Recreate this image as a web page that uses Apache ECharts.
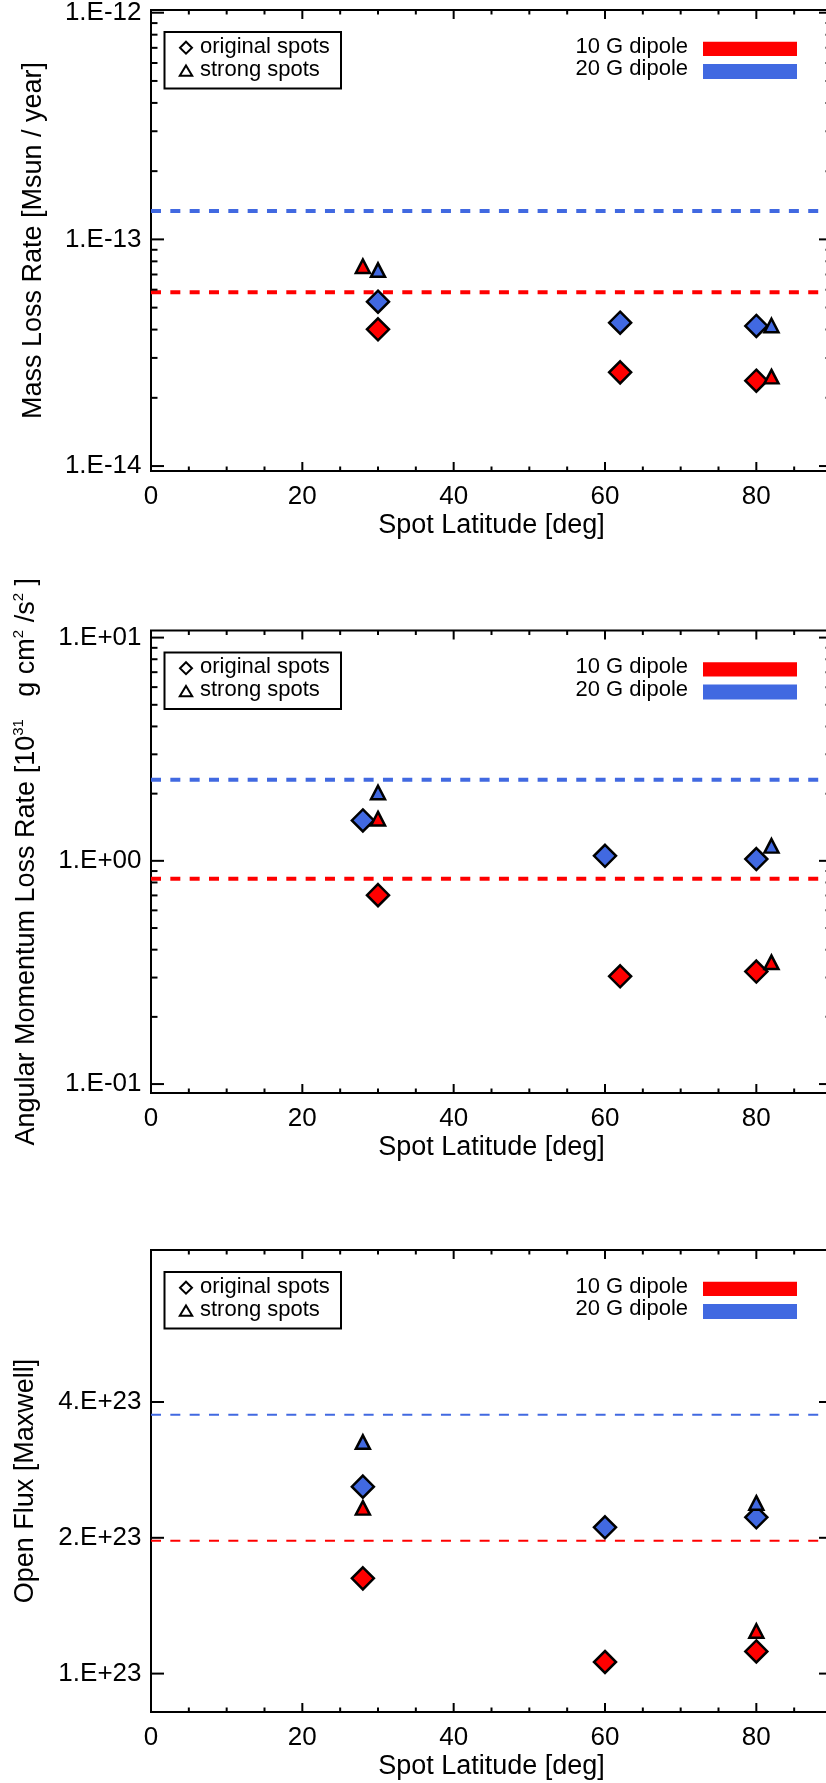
<!DOCTYPE html>
<html>
<head>
<meta charset="utf-8">
<script src="https://cdn.jsdelivr.net/npm/echarts@6/dist/echarts.min.js"></script>
<style>
  html, body { margin: 0; padding: 0; background: #fff; overflow: hidden; }
  #chart { width: 826px; height: 1783px; }
</style>
</head>
<body>
<div id="chart"></div>
<script>
// ---------- shared x axis: spot latitude ----------
const latRange = [0, 90];
const latMajorTicks = [0, 20, 40, 60, 80];
const latMajorLabels = ['0', '20', '40', '60', '80'];
const latMinorTicks = [5, 10, 15, 25, 30, 35, 45, 50, 55, 65, 70, 75, 85, 90];

// ---------- panel 1: mass loss rate [Msun / year] ----------
const massLatOrig10 = [30, 62, 80];
const massOrig10 = [4.01e-14, 2.59e-14, 2.38e-14];
const massLatOrig20 = [30, 62, 80];
const massOrig20 = [5.31e-14, 4.29e-14, 4.15e-14];
const massLatStrong10 = [28, 82];
const massStrong10 = [7.61e-14, 2.48e-14];
const massLatStrong20 = [30, 82];
const massStrong20 = [7.32e-14, 4.17e-14];
const massDipole10 = 5.84e-14;
const massDipole20 = 1.334e-13;
const massRange = [9.51e-15, 1.028e-12];
const massMajorTicks = [1e-14, 1e-13, 1e-12];
const massMajorLabels = ['1.E-14', '1.E-13', '1.E-12'];
const massMinorTicks = [2e-14, 3e-14, 4e-14, 5e-14, 6e-14, 7e-14, 8e-14, 9e-14,
                        2e-13, 3e-13, 4e-13, 5e-13, 6e-13, 7e-13, 8e-13, 9e-13];

// ---------- panel 2: angular momentum loss rate [1e31 g cm^2 / s^2] ----------
const amLatOrig10 = [30, 62, 80];
const amOrig10 = [0.702, 0.304, 0.319];
const amLatOrig20 = [28, 60, 80];
const amOrig20 = [1.517, 1.053, 1.019];
const amLatStrong10 = [30, 82];
const amStrong10 = [1.545, 0.351];
const amLatStrong20 = [30, 82];
const amStrong20 = [2.025, 1.167];
const amDipole10 = 0.832;
const amDipole20 = 2.31;
const amRange = [0.0912, 10.76];
const amMajorTicks = [0.1, 1, 10];
const amMajorLabels = ['1.E-01', '1.E+00', '1.E+01'];
const amMinorTicks = [0.2, 0.3, 0.4, 0.5, 0.6, 0.7, 0.8, 0.9,
                      2, 3, 4, 5, 6, 7, 8, 9];

// ---------- panel 3: open flux [Maxwell] ----------
const fluxLatOrig10 = [28, 60, 80];
const fluxOrig10 = [1.626e23, 1.061e23, 1.12e23];
const fluxLatOrig20 = [28, 60, 80];
const fluxOrig20 = [2.597e23, 2.11e23, 2.22e23];
const fluxLatStrong10 = [28, 80];
const fluxStrong10 = [2.33e23, 1.243e23];
const fluxLatStrong20 = [28, 80];
const fluxStrong20 = [3.26e23, 2.39e23];
const fluxDipole10 = 1.97e23;
const fluxDipole20 = 3.75e23;
const fluxRange = [8.22e22, 8.69e23];
const fluxMajorTicks = [1e23, 2e23, 4e23];
const fluxMajorLabels = ['1.E+23', '2.E+23', '4.E+23'];
const fluxMinorTicks = [];

// ---------- styling ----------
const FONT = '"Liberation Sans", Arial, Helvetica, sans-serif';
const RED = '#ff0000';
const BLUE = '#4169e1';
const PLOT_LEFT = 151;
const PLOT_WIDTH = 681;   // right frame edge sits just past the canvas edge

const panels = [
  {
    top: 10, height: 461, range: massRange,
    major: massMajorTicks, majorLabels: massMajorLabels, minor: massMinorTicks,
    title: 'Mass Loss Rate [Msun / year]', titleX: 34,
    orig10: [massLatOrig10, massOrig10], orig20: [massLatOrig20, massOrig20],
    strong10: [massLatStrong10, massStrong10], strong20: [massLatStrong20, massStrong20],
    dip10: massDipole10, dip20: massDipole20, dashWidth: 4
  },
  {
    top: 630.5, height: 462.5, range: amRange,
    major: amMajorTicks, majorLabels: amMajorLabels, minor: amMinorTicks,
    title: 'Angular Momentum Loss Rate [10{sup|31}   g cm{sup|2} /s{sup|2} ]', titleX: 26.5,
    orig10: [amLatOrig10, amOrig10], orig20: [amLatOrig20, amOrig20],
    strong10: [amLatStrong10, amStrong10], strong20: [amLatStrong20, amStrong20],
    dip10: amDipole10, dip20: amDipole20, dashWidth: 4
  },
  {
    top: 1250, height: 462, range: fluxRange,
    major: fluxMajorTicks, majorLabels: fluxMajorLabels, minor: fluxMinorTicks,
    title: 'Open Flux [Maxwell]', titleX: 26,
    orig10: [fluxLatOrig10, fluxOrig10], orig20: [fluxLatOrig20, fluxOrig20],
    strong10: [fluxLatStrong10, fluxStrong10], strong20: [fluxLatStrong20, fluxStrong20],
    dip10: fluxDipole10, dip20: fluxDipole20, dashWidth: 2
  }
];

function pairs(xs, ys) {
  return xs.map(function (x, i) { return [x, ys[i]]; });
}

// Axis frame: inward ticks on all four sides plus tick labels
function frameRenderer(p) {
  return function (params, api) {
    const cs = params.coordSys;
    const left = cs.x, right = cs.x + cs.width, top = cs.y, bottom = cs.y + cs.height;
    const yRef = p.major[0];
    const kids = [];
    function seg(x1, y1, x2, y2) {
      kids.push({ type: 'line', shape: { x1: x1, y1: y1, x2: x2, y2: y2 },
        style: { stroke: '#000', lineWidth: 2 } });
    }
    function label(text, x, y, align) {
      kids.push({ type: 'text', style: {
        text: text, x: x, y: y, fill: '#000',
        font: '26px ' + FONT, fontSize: 26, fontFamily: FONT,
        align: align, verticalAlign: 'middle',
        textAlign: align, textVerticalAlign: 'middle'
      } });
    }
    latMajorTicks.forEach(function (v, i) {
      const px = api.coord([v, yRef])[0];
      seg(px, bottom, px, bottom - 9);
      seg(px, top, px, top + 9);
      label(latMajorLabels[i], px, bottom + 26, 'center');
    });
    latMinorTicks.forEach(function (v) {
      const px = api.coord([v, yRef])[0];
      seg(px, bottom, px, bottom - 4.5);
      seg(px, top, px, top + 4.5);
    });
    p.major.forEach(function (v, i) {
      const py = api.coord([latRange[0], v])[1];
      seg(left, py, left + 13, py);
      seg(right, py, right - 13, py);
      label(p.majorLabels[i], left - 9.5, py, 'right');
    });
    p.minor.forEach(function (v) {
      const py = api.coord([latRange[0], v])[1];
      seg(left, py, left + 6.5, py);
      seg(right, py, right - 6.5, py);
    });
    return { type: 'group', children: kids };
  };
}

const grid = [], xAxis = [], yAxis = [], series = [], graphic = [];

panels.forEach(function (p, k) {
  grid.push({
    left: PLOT_LEFT, top: p.top, width: PLOT_WIDTH, height: p.height,
    outerBoundsMode: 'none', containLabel: false,
    show: true, borderColor: '#000', borderWidth: 2, backgroundColor: 'transparent'
  });
  xAxis.push({ type: 'value', gridIndex: k, min: latRange[0], max: latRange[1], show: false });
  yAxis.push({ type: 'log', logBase: 10, gridIndex: k, min: p.range[0], max: p.range[1], show: false });

  const dash = [10, 9.33];
  [[p.dip10, RED], [p.dip20, BLUE]].forEach(function (d) {
    series.push({
      type: 'line', xAxisIndex: k, yAxisIndex: k, silent: true,
      data: [[latRange[0], d[0]], [latRange[1], d[0]]],
      symbol: 'none', z: 2,
      lineStyle: { color: d[1], width: p.dashWidth, type: dash }
    });
  });

  const marker = function (src, color, symbol, size) {
    return {
      type: 'scatter', xAxisIndex: k, yAxisIndex: k, silent: true, z: 3,
      data: pairs(src[0], src[1]), symbol: symbol, symbolSize: size,
      itemStyle: { color: color, borderColor: '#000', borderWidth: 2.5, opacity: 1 }
    };
  };
  series.push(marker(p.orig10, RED, 'diamond', [22, 22]));
  series.push(marker(p.orig20, BLUE, 'diamond', [22, 22]));
  series.push(marker(p.strong10, RED, 'triangle', [14, 13.5]));
  series.push(marker(p.strong20, BLUE, 'triangle', [14, 13.5]));

  series.push({
    type: 'custom', xAxisIndex: k, yAxisIndex: k, silent: true, z: 5, clip: false,
    data: [[latRange[0], p.major[0]]],
    renderItem: frameRenderer(p)
  });

  const T = p.top;
  const bottom = p.top + p.height;
  const midY = p.top + p.height / 2;

  // y-axis title (rotated)
  graphic.push({
    type: 'text', x: p.titleX, y: midY, rotation: Math.PI / 2, silent: true,
    style: {
      text: p.title, fill: '#000', font: '27px ' + FONT, fontSize: 27, fontFamily: FONT,
      lineHeight: 30,
      align: 'center', verticalAlign: 'middle', textAlign: 'center', textVerticalAlign: 'middle',
      rich: {
        sup: { fontSize: 15, fontFamily: FONT, fill: '#000', verticalAlign: 'top', lineHeight: 15 }
      }
    }
  });
  // x-axis title
  graphic.push({
    type: 'text', x: PLOT_LEFT + PLOT_WIDTH / 2, y: bottom + 55, silent: true,
    style: {
      text: 'Spot Latitude [deg]', fill: '#000', font: '27px ' + FONT, fontSize: 27, fontFamily: FONT,
      align: 'center', verticalAlign: 'middle', textAlign: 'center', textVerticalAlign: 'middle'
    }
  });

  // symbol key (upper left)
  graphic.push({
    type: 'rect', silent: true,
    shape: { x: 164.5, y: T + 22, width: 176.5, height: 56.5 },
    style: { fill: 'none', stroke: '#000', lineWidth: 2 }
  });
  graphic.push({
    type: 'polygon', silent: true,
    shape: { points: [[186, T + 31.7], [192, T + 37.7], [186, T + 43.7], [180, T + 37.7]] },
    style: { fill: '#fff', stroke: '#000', lineWidth: 2 }
  });
  graphic.push({
    type: 'polygon', silent: true,
    shape: { points: [[186, T + 55.5], [192.2, T + 65.8], [179.8, T + 65.8]] },
    style: { fill: '#fff', stroke: '#000', lineWidth: 2 }
  });
  [['original spots', T + 36.5], ['strong spots', T + 59.5]].forEach(function (e) {
    graphic.push({
      type: 'text', x: 200, y: e[1], silent: true,
      style: { text: e[0], fill: '#000', font: '22px ' + FONT, fontSize: 22, fontFamily: FONT,
        align: 'left', verticalAlign: 'middle', textAlign: 'left', textVerticalAlign: 'middle' }
    });
  });

  // dipole key (upper right)
  [['10 G dipole', T + 36.5, RED, T + 31.7, 14.3], ['20 G dipole', T + 59, BLUE, T + 54, 15]].forEach(function (e) {
    graphic.push({
      type: 'text', x: 688, y: e[1], silent: true,
      style: { text: e[0], fill: '#000', font: '22px ' + FONT, fontSize: 22, fontFamily: FONT,
        align: 'right', verticalAlign: 'middle', textAlign: 'right', textVerticalAlign: 'middle' }
    });
    graphic.push({
      type: 'rect', silent: true,
      shape: { x: 703, y: e[3], width: 94, height: e[4] },
      style: { fill: e[2] }
    });
  });
});

const chart = echarts.init(document.getElementById('chart'), null, { renderer: 'canvas' });
chart.setOption({
  animation: false,
  backgroundColor: '#fff',
  grid: grid,
  xAxis: xAxis,
  yAxis: yAxis,
  series: series,
  graphic: { elements: graphic }
});
</script>
</body>
</html>
